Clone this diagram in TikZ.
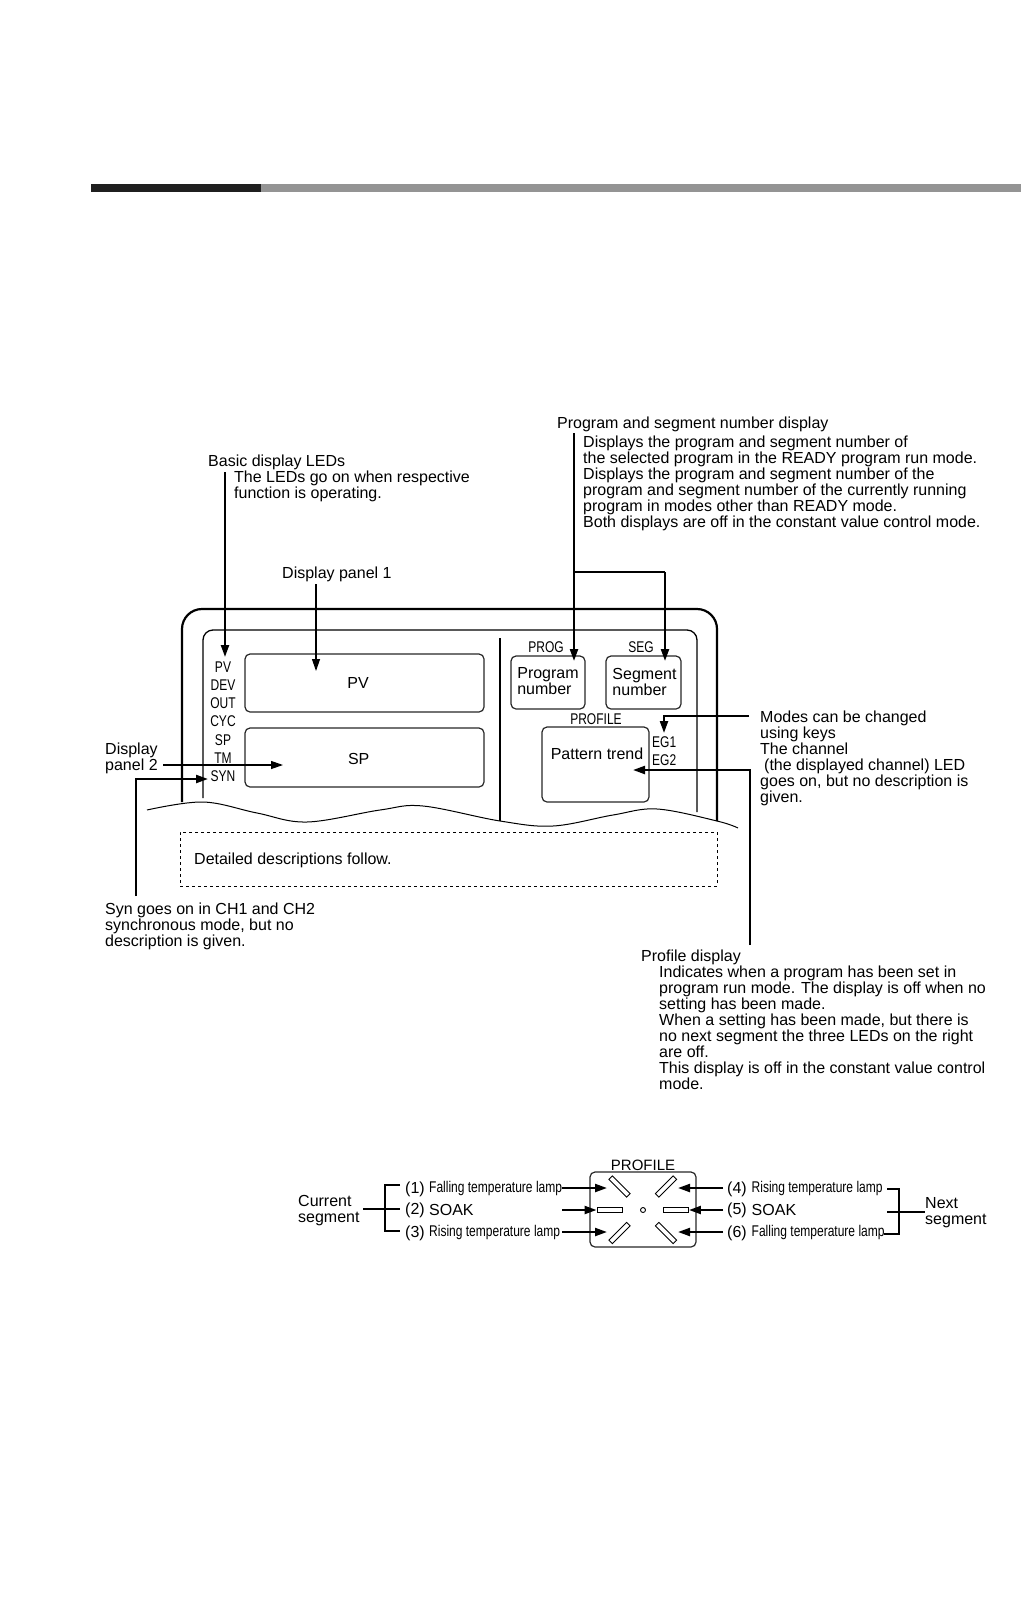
\documentclass[tikz,border=0pt]{standalone}
\usepackage{fontspec}
\usepackage{tikz}
\setmainfont{Liberation Sans}
\newfontfamily\narrowface[FakeStretch=0.775]{Liberation Sans}
\usetikzlibrary{arrows.meta, positioning}

\begin{document}
\begin{tikzpicture}[
    x=1pt, y=-1pt,
    note/.style={anchor=west, align=left, inner sep=0pt, yshift=-2pt, font=\fontsize{16}{16}\selectfont},
    ledtext/.style={inner sep=0pt, font=\narrowface\fontsize{15.5}{16}\selectfont},
    panel/.style={rectangle, draw=black!85, line width=1.2pt, rounded corners=5pt, inner sep=0pt},
    lamp/.style={rectangle, draw=black, line width=0.9pt, minimum width=25pt, minimum height=5pt, inner sep=0pt},
    heavy/.style={-{Triangle[length=12pt, width=8pt]}, line width=2.2pt},
    light/.style={-{Triangle[length=12pt, width=8pt]}, line width=1.2pt},
    wire/.style={line width=2.2pt},
    case/.style={line width=2.2pt}
]
    \useasboundingbox (0,0) rectangle (1022,1616);

    % header bar
    \fill[black!88] (91,184) rectangle (261,192);
    \fill[black!42] (261,184) rectangle (1021,192);

    % case outline
    \draw[case, rounded corners=20pt] (182,802) -- (182,609) -- (717,609) -- (717,821);
    \draw[line width=1.3pt, rounded corners=10pt] (203,798) -- (203,630) -- (697,630) -- (697,812);
    \draw[case] (500,638) -- (500,821);
    \draw[line width=1pt] plot[smooth, tension=0.6] coordinates {(147,810) (203,802) (257,813) (307,822) (380,810) (423,806) (500,821) (553,826) (613,815) (657,809) (717,821) (738,828)};
    \node[draw, dashed, line width=0.9pt, minimum width=537pt, minimum height=54pt, inner sep=0pt] (follow) at (448.5,859) {};
    \node[note] (followtext) at (194,858) {Detailed descriptions follow.};

    % display panels
    \node[panel, minimum width=239pt, minimum height=58pt] (pvbox) at (364.5,683) {};
    \node[panel, minimum width=239pt, minimum height=59pt] (spbox) at (364.5,757.5) {};
    \node[note, anchor=center] (pvtext) at (358,681) {PV};
    \node[note, anchor=center] (sptext) at (358.7,757) {SP};
    \node[panel, minimum width=74pt, minimum height=53pt] (progbox) at (548,682.5) {};
    \node[panel, minimum width=75pt, minimum height=53pt] (segbox) at (643.5,682.5) {};
    \node[note, anchor=center] (progtext) at (548,679.5) {Program\\number};
    \node[note, anchor=center] (segtext) at (644.5,679.5) {Segment\\number};
    \node[panel, minimum width=107pt, minimum height=75pt] (trendbox) at (595.5,764.5) {};
    \node[note, anchor=center] (trendtext) at (597,752) {Pattern trend};

    % indicator labels
    \node[ledtext] (ledpv) at (223,667) {PV};
    \node[ledtext, on grid, below=18.2pt of ledpv] (leddev) {DEV};
    \node[ledtext, on grid, below=18.2pt of leddev] (ledout) {OUT};
    \node[ledtext, on grid, below=18.2pt of ledout] (ledcyc) {CYC};
    \node[ledtext, on grid, below=18.2pt of ledcyc] (ledsp) {SP};
    \node[ledtext, on grid, below=18.2pt of ledsp] (ledtm) {TM};
    \node[ledtext, on grid, below=18.2pt of ledtm] (ledsyn) {SYN};
    \node[ledtext] (progtag) at (546,647) {PROG};
    \node[ledtext] (segtag) at (641,647) {SEG};
    \node[ledtext] (proftag) at (596,719) {PROFILE};
    \node[ledtext, anchor=west] (egone) at (652,742) {EG1};
    \node[ledtext, anchor=west] (egtwo) at (652,760) {EG2};

    % callouts
    \node[note] (basichead) at (208,460) {Basic display LEDs};
    \node[note, anchor=north west] (basicbody) at (234,469) {The LEDs go on when respective\\function is operating.};
    \node[note] (panelone) at (282,572) {Display panel 1};
    \node[note] (paneltwo) at (105,756) {Display\\panel 2};
    \node[note] (syntext) at (105,924) {Syn goes on in CH1 and CH2\\synchronous mode, but no\\description is given.};
    \node[note] (proghead) at (557,422.5) {Program and segment number display};
    \node[note] (progbody) at (583,481) {Displays the program and segment number of\\the selected program in the READY program run mode.\\Displays the program and segment number of the\\program and segment number of the currently running\\program in modes other than READY mode.\\Both displays are off in the constant value control mode.};
    \node[note] (modetext) at (760,756) {Modes can be changed\\using keys\\The channel\\\hspace*{4pt}(the displayed channel) LED\\goes on, but no description is\\given.};
    \node[note] (profhead) at (641,955) {Profile display};
    \node[note] (profbody) at (659,1026) {Indicates when a program has been set in\\program run mode. The display is off when no\\setting has been made.\\When a setting has been made, but there is\\no next segment the three LEDs on the right\\are off.\\This display is off in the constant value control\\mode.};

    % arrow ends
    \coordinate (basicstart) at (225,472);
    \coordinate (basictip) at (225,657);
    \coordinate (onestart) at (316,584);
    \coordinate (onetip) at (316,671);
    \coordinate (twostart) at (163,765);
    \coordinate (twotip) at (283,765);
    \coordinate (synstart) at (136,896);
    \coordinate (synbend) at (136,779);
    \coordinate (syntip) at (208,779);
    \coordinate (progstart) at (574,433);
    \coordinate (progtip) at (574,661);
    \coordinate (progjoin) at (574,572);
    \coordinate (segbend) at (665,572);
    \coordinate (segtip) at (665,661);
    \coordinate (modestart) at (749,716);
    \coordinate (modebend) at (664,716);
    \coordinate (modetip) at (664,733);
    \coordinate (profstart) at (750,945);
    \coordinate (profbend) at (750,770);
    \coordinate (proftip) at (633,770);

    \draw[heavy] (basicstart) -- (basictip);
    \draw[light] (onestart) -- (onetip);
    \draw[light] (twostart) -- (twotip);
    \draw[heavy] (synstart) -- (synbend) -- (syntip);
    \draw[heavy] (progstart) -- (progtip);
    \draw[line width=1.2pt] (progjoin) -- (segbend);
    \draw[heavy] (segbend) -- (segtip);
    \draw[heavy] (modestart) -- (modebend) -- (modetip);
    \draw[heavy] (profstart) -- (profbend) -- (proftip);

    % profile detail
    \node[panel, minimum width=106pt, minimum height=75pt] (detail) at (643,1209.5) {};
    \node[note, anchor=center, font=\fontsize{15}{16}\selectfont] (detailtag) at (643,1163) {PROFILE};
    \node[lamp, rotate=-45] (lampone) at (619.5,1186.5) {};
    \node[lamp] (lamptwo) at (609.5,1210) {};
    \node[lamp, rotate=45] (lampthree) at (619.5,1233) {};
    \node[lamp, rotate=45] (lampfour) at (666,1186.5) {};
    \node[lamp] (lampfive) at (676,1210) {};
    \node[lamp, rotate=-45] (lampsix) at (666,1233) {};
    \node[draw, circle, line width=0.9pt, minimum size=5pt, inner sep=0pt] (hub) at (643,1210) {};

    \node[note] (current) at (298,1209) {Current\\segment};
    \node[note] (numone) at (405,1187) {(1)};
    \node[note] (numtwo) at (405,1208) {(2)};
    \node[note] (numthree) at (405,1231) {(3)};
    \node[ledtext, anchor=west] (fallingl) at (429,1188) {Falling temperature lamp};
    \node[note] (soakl) at (429,1208) {SOAK};
    \node[ledtext, anchor=west] (risingl) at (429,1232) {Rising temperature lamp};
    \node[note] (numfour) at (727,1187) {(4)};
    \node[note] (numfive) at (727,1208) {(5)};
    \node[note] (numsix) at (727,1231) {(6)};
    \node[ledtext, anchor=west] (risingr) at (751.5,1188) {Rising temperature lamp};
    \node[note] (soakr) at (751.5,1208) {SOAK};
    \node[ledtext, anchor=west] (fallingr) at (751.5,1232) {Falling temperature lamp};
    \node[note] (nextseg) at (925,1211) {Next\\segment};

    % profile leaders
    \coordinate (leftstem) at (363,1209);
    \coordinate (lefttop) at (385,1185);
    \coordinate (leftmid) at (400,1209);
    \coordinate (leftlow) at (385,1231);
    \coordinate (fallstart) at (562,1188);
    \coordinate (fallend) at (607,1188);
    \coordinate (soakstart) at (562,1210);
    \coordinate (risestart) at (562,1232);
    \coordinate (riseend) at (607,1232);
    \coordinate (fourstart) at (723,1188);
    \coordinate (fourend) at (678,1188);
    \coordinate (fivestart) at (723,1210);
    \coordinate (sixstart) at (723,1232);
    \coordinate (sixend) at (678,1232);
    \coordinate (brace) at (899,1189);
    \coordinate (bracelow) at (899,1234);
    \draw[wire] (leftstem) -- (leftmid);
    \draw[wire] (400,1185) -- (lefttop) -- (leftlow) -- (400,1231);
    \draw[heavy] (fallstart) -- (fallend);
    \draw[heavy] (soakstart) -- (lamptwo.west);
    \draw[heavy] (risestart) -- (riseend);
    \draw[heavy] (fourstart) -- (fourend);
    \draw[heavy] (fivestart) -- (lampfive.east);
    \draw[heavy] (sixstart) -- (sixend);
    \draw[wire] (887,1189) -- (brace) -- (bracelow) -- (884,1234);
    \draw[line width=1.1pt] (887,1212) -- (925,1212);
\end{tikzpicture}
\end{document}
